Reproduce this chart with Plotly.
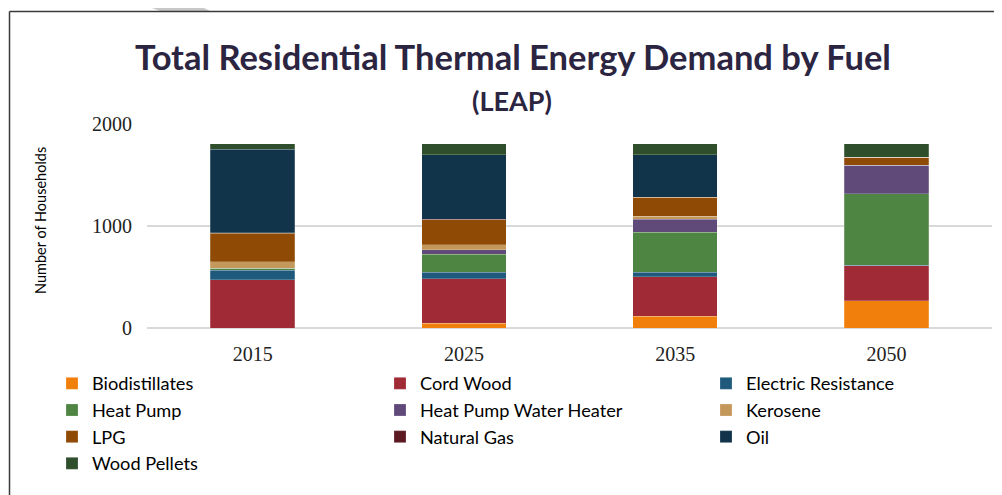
import plotly.graph_objects as go

# --- data ---
years = ["2015", "2025", "2035", "2050"]

biodistillates = [0, 49, 114, 265]
cord_wood = [473, 435, 389, 343]
electric_resistance = [92, 65, 46, 7]
heat_pump = [20, 173, 389, 699]
hp_water_heater = [0, 46, 127, 281]
kerosene = [65, 49, 33, 0]
lpg = [280, 245, 183, 78]
natural_gas = [3, 2, 1, 0]
oil = [820, 637, 415, 0]
wood_pellets = [53, 105, 108, 131]

fuels = [
    ("Biodistillates", biodistillates, "#F07F0B"),
    ("Cord Wood", cord_wood, "#A02B37"),
    ("Electric Resistance", electric_resistance, "#1F5A7D"),
    ("Heat Pump", heat_pump, "#4F8543"),
    ("Heat Pump Water Heater", hp_water_heater, "#604A7A"),
    ("Kerosene", kerosene, "#C4975A"),
    ("LPG", lpg, "#8F4A06"),
    ("Natural Gas", natural_gas, "#5E1A22"),
    ("Oil", oil, "#12344B"),
    ("Wood Pellets", wood_pellets, "#2F4F2C"),
]

# --- geometry: the page body has an 8px margin, so the figure is 994x487 ---
OFF = 8
W, H = 1002 - OFF, 495 - OFF
ML, MR, MT, MB = 139, 10, 116, 167
PW = W - ML - MR
PH = H - MT - MB


def px_x(p):
    # screen pixel -> paper fraction
    return (p - OFF - ML) / PW


def px_y(p):
    return (H - MB - (p - OFF)) / PH


fig = go.Figure()

legend_names = ["legend", "legend2", "legend3"]
for i, (name, vals, color) in enumerate(fuels):
    fig.add_trace(go.Bar(
        x=years, y=vals, name=name,
        marker=dict(color=color, line=dict(color="rgba(255,255,255,0.35)", width=0.6)),
        legend=legend_names[i % 3],
    ))

leg_font = dict(family="Lato", size=18.2, color="#000000")
leg_common = dict(
    orientation="v", traceorder="normal", font=leg_font,
    bgcolor="rgba(0,0,0,0)", yanchor="top", xanchor="left",
    itemwidth=30, tracegroupgap=0,
)

title_color = "#2B2541"

fig.update_layout(
    width=W, height=H,
    margin=dict(l=ML, r=MR, t=MT, b=MB, autoexpand=False),
    paper_bgcolor="white", plot_bgcolor="white",
    barmode="stack", bargap=0.6,
    title=dict(
        text="<b>Total Residential Thermal Energy Demand by Fuel</b>",
        font=dict(family="Lato", size=34.5, color=title_color),
        x=(513 - OFF) / W, xanchor="center", xref="container",
        y=1 - (58 - OFF) / H, yanchor="middle", yref="container",
    ),
    annotations=[
        dict(text="<b>(LEAP)</b>", xref="paper", yref="paper",
             x=px_x(512), y=px_y(100), xanchor="center", yanchor="middle",
             showarrow=False, font=dict(family="Lato", size=27, color=title_color)),
        dict(text="Number of Households", xref="paper", yref="paper",
             x=px_x(40), y=px_y(221), xanchor="center", yanchor="middle",
             textangle=-90, showarrow=False,
             font=dict(family="Lato", size=14.5, color="#000000")),
    ],
    legend=dict(x=px_x(52), y=px_y(365), **leg_common),
    legend2=dict(x=px_x(380), y=px_y(365), **leg_common),
    legend3=dict(x=px_x(706), y=px_y(365), **leg_common),
    xaxis=dict(
        type="category", showgrid=False, showline=False, ticks="",
        automargin=False, ticklabelstandoff=12,
        tickfont=dict(family="Liberation Serif", size=20, color="#222222"),
    ),
    yaxis=dict(
        range=[0, 2000], tickvals=[0, 1000, 2000],
        showgrid=True, gridcolor="#D9D9D9", gridwidth=1.5,
        zeroline=True, zerolinecolor="#D9D9D9", zerolinewidth=1.5,
        showline=False, ticks="", ticklabelstandoff=14, automargin=False,
        tickfont=dict(family="Liberation Serif", size=20, color="#222222"),
    ),
    shapes=[
        # frame around the chart
        dict(type="line", xref="paper", yref="paper",
             x0=px_x(9.5), y0=px_y(11.5), x1=px_x(1002), y1=px_y(11.5),
             line=dict(color="#3A3A3A", width=1.5)),
        dict(type="line", xref="paper", yref="paper",
             x0=px_x(9.5), y0=px_y(11.5), x1=px_x(9.5), y1=px_y(495),
             line=dict(color="#3A3A3A", width=1.5)),
        # grey mark at the top edge
        dict(type="path", xref="paper", yref="paper", layer="below",
             path=f"M{px_x(152)},{px_y(8)} L{px_x(204)},{px_y(8)} "
                  f"L{px_x(210)},{px_y(11)} L{px_x(160)},{px_y(11)} Z",
             fillcolor="#C8C8C8", line=dict(width=0)),
    ],
)

fig.write_html("out.html")
